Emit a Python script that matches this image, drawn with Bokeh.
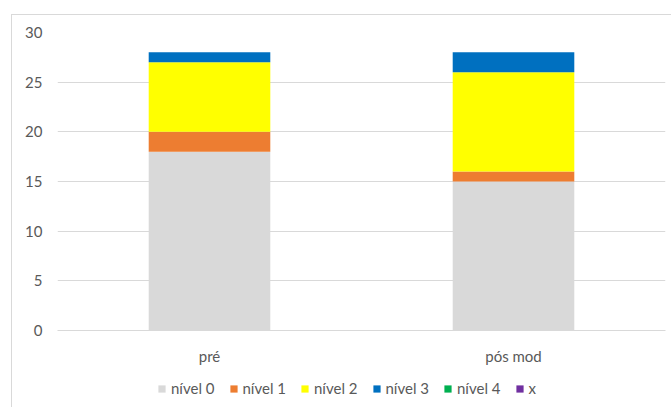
from bokeh.plotting import figure
from bokeh.models import Range1d, FactorRange, Legend, SingleIntervalTicker
from bokeh.layouts import column
from bokeh.embed import file_html
from bokeh.resources import INLINE

categories = ["pré", "pós mod"]
series_names = ["nível 0", "nível 1", "nível 2", "nível 3", "nível 4", "x"]
nivel0 = [18, 15]
nivel1 = [2, 1]
nivel2 = [7, 10]
nivel3 = [1, 2]
nivel4 = [0, 0]
x_vals = [0, 0]
colors = ["#d9d9d9", "#ed7d31", "#ffff00", "#0070c0", "#00b050", "#7030a0"]

FONT = "Lato"
TXT = "#595959"
FS = "15px"

data = {"cat": categories, "nível 0": nivel0, "nível 1": nivel1, "nível 2": nivel2,
        "nível 3": nivel3, "nível 4": nivel4, "x": x_vals}

p = figure(width=660, height=365, x_range=FactorRange(*categories), y_range=Range1d(0, 30),
           output_backend="svg", toolbar_location=None,
           min_border_left=45, min_border_right=7, min_border_top=17, min_border_bottom=50)
p.outline_line_color = None
p.background_fill_color = "white"
p.border_fill_color = "white"

renderers = p.vbar_stack(series_names, x="cat", width=0.4, color=colors, line_color=None,
                         source=data)

p.yaxis.ticker = SingleIntervalTicker(interval=5)
p.yaxis.axis_line_color = None
p.yaxis.major_tick_line_color = None
p.yaxis.minor_tick_line_color = None
p.yaxis.major_label_text_font = FONT
p.yaxis.major_label_text_font_size = FS
p.yaxis.major_label_text_color = TXT
p.yaxis.major_label_standoff = 9

p.xaxis.axis_line_color = "#d9d9d9"
p.xaxis.major_tick_line_color = None
p.xaxis.minor_tick_line_color = None
p.xaxis.major_label_text_font = FONT
p.xaxis.major_label_text_font_size = FS
p.xaxis.major_label_text_color = TXT
p.xaxis.major_label_standoff = 10

p.xgrid.grid_line_color = None
p.ygrid.grid_line_color = "#d9d9d9"

# legend strip below the chart: same stacked data, drawn outside its visible y range
lg = figure(width=660, height=28, x_range=FactorRange(*categories), y_range=Range1d(100, 101),
            output_backend="svg", toolbar_location=None,
            min_border_left=0, min_border_right=0, min_border_top=0, min_border_bottom=0)
lg.outline_line_color = None
lg.axis.visible = False
lg.grid.visible = False
lg.border_fill_color = "white"
lg.background_fill_color = "white"
lg_renderers = lg.vbar_stack(series_names, x="cat", width=0.4, color=colors, line_color=None,
                             source=data)

legend = Legend(items=[(n, [r]) for n, r in zip(series_names, lg_renderers)],
                orientation="horizontal", location=(100, 11))
legend.glyph_width = 9
legend.glyph_height = 9
legend.label_standoff = 5
legend.spacing = 14
legend.padding = 0
legend.margin = 0
legend.border_line_color = None
legend.background_fill_alpha = 0
legend.label_text_font = FONT
legend.label_text_font_size = FS
legend.label_text_color = TXT
lg.add_layout(legend, "center")

layout = column(p, lg, spacing=0)
layout.margin = (14, 0, 0, 11)
layout.styles = {"border-left": "1px solid #d9d9d9", "border-top": "1px solid #d9d9d9"}

open("out.html", "w").write(file_html(layout, INLINE))
